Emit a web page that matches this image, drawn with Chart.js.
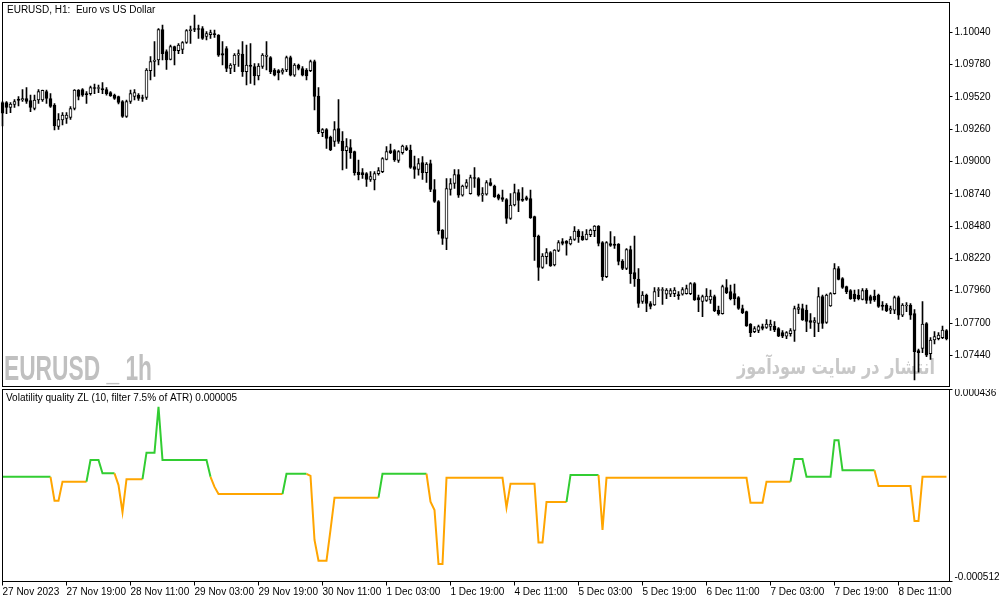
<!DOCTYPE html>
<html>
<head>
<meta charset="utf-8">
<title>EURUSD H1</title>
<script src="https://cdn.jsdelivr.net/npm/chart.js@4.4.1/dist/chart.umd.min.js"></script>
<style>
  html, body { margin: 0; padding: 0; background: #ffffff; }
  #wrap { position: relative; width: 1003px; height: 603px; overflow: hidden; }
  #priceCanvas { position: absolute; left: 0; top: 0; }
  #vqCanvas { position: absolute; left: 0; top: 389px; }
</style>
</head>
<body>
<div id="wrap">
  <canvas id="priceCanvas" width="1003" height="389"></canvas>
  <canvas id="vqCanvas" width="1003" height="214"></canvas>
</div>
<script>
// hourly bars, broker time
const tradingDays = ['27 Nov', '28 Nov', '29 Nov', '30 Nov', '1 Dec', '4 Dec', '5 Dec', '6 Dec', '7 Dec', '8 Dec']
const firstHour = 3
const firstTickLabel = '27 Nov 2023'
const hours = []
tradingDays.forEach((d, k) => {
  for (let h = k === 0 ? firstHour : 0; h < 24; h++) hours.push(d + ' ' + String(h).padStart(2, '0') + ':00')
})

const priceTicks = [1.07440, 1.07700, 1.07960, 1.08220, 1.08480, 1.08740, 1.09000, 1.09260, 1.09520, 1.09780, 1.10040]

const openPrices = [
  1.09475,1.09475,1.09435,1.09459,1.09503,1.09495,1.09507,1.09491,1.09427,1.09495,
  1.09495,1.09563,1.09507,1.09455,1.09282,1.09334,1.09346,1.09354,1.09427,1.09576,
  1.09580,1.09543,1.09547,1.09596,1.09588,1.09588,1.09580,1.09555,1.09535,1.09523,
  1.09483,1.09362,1.09483,1.09523,1.09535,1.09515,1.09515,1.09732,1.09805,1.09817,
  1.10063,1.09885,1.09821,1.09926,1.09893,1.09902,1.09958,1.10054,1.10071,1.10071,
  1.10071,1.10006,1.10022,1.10030,1.10018,1.09869,1.09910,1.09749,1.09777,1.09857,
  1.09865,1.09724,1.09777,1.09765,1.09688,1.09765,1.09845,1.09837,1.09737,1.09732,
  1.09720,1.09737,1.09837,1.09696,1.09777,1.09749,1.09737,1.09732,1.09805,1.09527,
  1.09233,1.09258,1.09197,1.09161,1.09266,1.09165,1.09088,1.09113,1.09080,1.08915,
  1.08911,1.08903,1.08855,1.08851,1.08903,1.08919,1.09016,1.09088,1.09088,1.09008,
  1.09072,1.09113,1.09093,1.08960,1.08936,1.08992,1.08911,1.08984,1.08775,1.08678,
  1.08448,1.08380,1.08775,1.08823,1.08895,1.08730,1.08799,1.08742,1.08871,1.08863,
  1.08730,1.08738,1.08831,1.08803,1.08730,1.08710,1.08694,1.08541,1.08650,1.08750,
  1.08698,1.08710,1.08702,1.08557,1.08400,1.08147,1.08235,1.08267,1.08167,1.08284,
  1.08356,1.08360,1.08336,1.08372,1.08440,1.08400,1.08372,1.08412,1.08444,1.08481,
  1.08348,1.08074,1.08340,1.08336,1.08336,1.08199,1.08139,1.08291,1.08106,1.08054,
  1.07873,1.07925,1.07857,1.07845,1.07962,1.07962,1.07933,1.07933,1.07937,1.07929,
  1.07933,1.07937,1.07937,1.08018,1.07905,1.07873,1.07881,1.07885,1.07913,1.07804,
  1.07776,1.07986,1.07953,1.07937,1.07905,1.07817,1.07792,1.07692,1.07631,1.07640,
  1.07672,1.07664,1.07672,1.07676,1.07656,1.07623,1.07595,1.07615,1.07640,1.07809,
  1.07817,1.07804,1.07720,1.07704,1.07696,1.07913,1.07704,1.07837,1.07937,1.08139,
  1.08058,1.07994,1.07962,1.07933,1.07925,1.07889,1.07966,1.07913,1.07917,1.07925,
  1.07845,1.07845,1.07804,1.07804,1.07905,1.07764,1.07837,1.07845,1.07776,1.07479,
  1.07495,1.07696,1.07454,1.07563,1.07575,1.07583,1.07640
]

const highPrices = [
  1.09483,1.09483,1.09475,1.09499,1.09523,1.09580,1.09596,1.09535,1.09535,1.09580,
  1.09576,1.09576,1.09547,1.09467,1.09386,1.09394,1.09394,1.09443,1.09580,1.09580,
  1.09588,1.09563,1.09608,1.09624,1.09616,1.09636,1.09596,1.09563,1.09543,1.09527,
  1.09491,1.09495,1.09576,1.09580,1.09547,1.09535,1.09749,1.09845,1.09966,1.10071,
  1.10099,1.09898,1.09938,1.09930,1.09950,1.09966,1.10063,1.10091,1.10179,1.10099,
  1.10087,1.10046,1.10058,1.10058,1.10022,1.09966,1.09926,1.09789,1.09869,1.09898,
  1.09966,1.09938,1.09950,1.09789,1.09789,1.09869,1.09966,1.09845,1.09749,1.09741,
  1.09749,1.09849,1.09849,1.09789,1.09785,1.09765,1.09749,1.09817,1.09817,1.09596,
  1.09266,1.09266,1.09205,1.09322,1.09499,1.09241,1.09185,1.09177,1.09084,1.09012,
  1.08944,1.08911,1.08919,1.08919,1.08952,1.09032,1.09121,1.09141,1.09097,1.09088,
  1.09133,1.09129,1.09133,1.09044,1.09024,1.09040,1.08992,1.09012,1.08855,1.08686,
  1.08453,1.08863,1.08863,1.08936,1.08936,1.08811,1.08855,1.08891,1.08952,1.08871,
  1.08791,1.08847,1.08863,1.08811,1.08738,1.08771,1.08702,1.08742,1.08819,1.08775,
  1.08791,1.08722,1.08771,1.08561,1.08408,1.08259,1.08300,1.08275,1.08291,1.08364,
  1.08380,1.08364,1.08396,1.08477,1.08453,1.08436,1.08453,1.08457,1.08485,1.08485,
  1.08356,1.08356,1.08436,1.08396,1.08340,1.08211,1.08300,1.08320,1.08400,1.08139,
  1.07953,1.07933,1.07873,1.07986,1.07986,1.07986,1.07978,1.07978,1.07986,1.07953,
  1.07986,1.08006,1.08026,1.08026,1.07925,1.07925,1.07978,1.07966,1.07925,1.07837,
  1.08006,1.08050,1.08006,1.08014,1.07913,1.07845,1.07796,1.07696,1.07672,1.07684,
  1.07692,1.07728,1.07724,1.07712,1.07664,1.07640,1.07631,1.07656,1.07837,1.07853,
  1.07853,1.07845,1.07776,1.07744,1.07986,1.07925,1.07933,1.07945,1.08179,1.08155,
  1.08066,1.07998,1.07970,1.07966,1.07970,1.07978,1.07978,1.07925,1.07966,1.07933,
  1.07873,1.07857,1.07837,1.07917,1.07917,1.07857,1.07865,1.07857,1.07809,1.07491,
  1.07873,1.07704,1.07583,1.07631,1.07623,1.07676,1.07648
]

const lowPrices = [
  1.09286,1.09386,1.09394,1.09435,1.09447,1.09483,1.09467,1.09402,1.09415,1.09467,
  1.09483,1.09467,1.09435,1.09254,1.09258,1.09294,1.09306,1.09338,1.09415,1.09495,
  1.09523,1.09467,1.09535,1.09547,1.09555,1.09547,1.09535,1.09523,1.09499,1.09463,
  1.09354,1.09354,1.09467,1.09495,1.09491,1.09483,1.09499,1.09656,1.09684,1.09777,
  1.09817,1.09741,1.09817,1.09777,1.09869,1.09869,1.09950,1.09950,1.10046,1.09990,
  1.09982,1.09978,1.09990,1.09998,1.09845,1.09777,1.09724,1.09708,1.09724,1.09765,
  1.09684,1.09616,1.09628,1.09616,1.09656,1.09749,1.09737,1.09708,1.09688,1.09656,
  1.09704,1.09724,1.09688,1.09684,1.09737,1.09688,1.09656,1.09724,1.09415,1.09225,
  1.09201,1.09105,1.09088,1.09121,1.09145,1.08932,1.08944,1.09024,1.08891,1.08851,
  1.08863,1.08799,1.08839,1.08771,1.08891,1.08911,1.09012,1.09064,1.09000,1.08992,
  1.09060,1.09088,1.08944,1.08863,1.08891,1.08855,1.08831,1.08758,1.08670,1.08416,
  1.08332,1.08291,1.08730,1.08783,1.08710,1.08722,1.08783,1.08738,1.08791,1.08722,
  1.08678,1.08730,1.08803,1.08710,1.08690,1.08678,1.08501,1.08533,1.08642,1.08597,
  1.08678,1.08686,1.08541,1.08203,1.08042,1.08139,1.08175,1.08155,1.08159,1.08275,
  1.08328,1.08247,1.08328,1.08364,1.08348,1.08364,1.08368,1.08396,1.08396,1.08320,
  1.08042,1.08066,1.08316,1.08300,1.08167,1.08130,1.08130,1.08018,1.07994,1.07825,
  1.07857,1.07792,1.07813,1.07841,1.07913,1.07849,1.07897,1.07913,1.07913,1.07889,
  1.07925,1.07933,1.07929,1.07881,1.07792,1.07752,1.07873,1.07857,1.07792,1.07764,
  1.07772,1.07937,1.07885,1.07845,1.07809,1.07776,1.07672,1.07591,1.07623,1.07623,
  1.07644,1.07656,1.07640,1.07631,1.07591,1.07583,1.07575,1.07595,1.07551,1.07776,
  1.07720,1.07631,1.07656,1.07591,1.07631,1.07656,1.07696,1.07833,1.07933,1.08046,
  1.07978,1.07937,1.07889,1.07873,1.07885,1.07885,1.07857,1.07857,1.07873,1.07825,
  1.07804,1.07792,1.07776,1.07776,1.07728,1.07752,1.07792,1.07728,1.07241,1.07305,
  1.07462,1.07430,1.07406,1.07531,1.07563,1.07575,1.07563
]

const closePrices = [
  1.09390,1.09435,1.09463,1.09483,1.09491,1.09507,1.09483,1.09435,1.09495,1.09563,
  1.09572,1.09507,1.09443,1.09286,1.09338,1.09374,1.09374,1.09427,1.09576,1.09523,
  1.09535,1.09539,1.09596,1.09588,1.09592,1.09576,1.09547,1.09527,1.09507,1.09475,
  1.09362,1.09483,1.09547,1.09555,1.09507,1.09507,1.09737,1.09805,1.09817,1.10063,
  1.09869,1.09817,1.09926,1.09893,1.09938,1.09958,1.10054,1.10063,1.10063,1.10063,
  1.09990,1.10030,1.10038,1.10022,1.09857,1.09857,1.09749,1.09777,1.09857,1.09869,
  1.09724,1.09777,1.09765,1.09688,1.09769,1.09857,1.09857,1.09724,1.09696,1.09716,
  1.09737,1.09837,1.09696,1.09777,1.09749,1.09696,1.09688,1.09805,1.09523,1.09241,
  1.09258,1.09185,1.09093,1.09258,1.09161,1.09088,1.09121,1.09072,1.08911,1.08895,
  1.08895,1.08855,1.08879,1.08903,1.08928,1.09024,1.09080,1.09072,1.09012,1.09080,
  1.09125,1.09093,1.08952,1.08936,1.08984,1.08911,1.08980,1.08775,1.08678,1.08444,
  1.08380,1.08783,1.08823,1.08895,1.08730,1.08803,1.08831,1.08871,1.08863,1.08730,
  1.08742,1.08831,1.08807,1.08718,1.08702,1.08694,1.08541,1.08650,1.08750,1.08686,
  1.08686,1.08694,1.08549,1.08396,1.08147,1.08239,1.08267,1.08159,1.08288,1.08348,
  1.08340,1.08340,1.08376,1.08440,1.08396,1.08368,1.08416,1.08448,1.08481,1.08340,
  1.08074,1.08348,1.08324,1.08324,1.08195,1.08139,1.08291,1.08098,1.08054,1.07857,
  1.07925,1.07857,1.07833,1.07953,1.07970,1.07970,1.07966,1.07962,1.07966,1.07921,
  1.07970,1.07978,1.08018,1.07885,1.07885,1.07913,1.07917,1.07917,1.07800,1.07776,
  1.07994,1.07945,1.07897,1.07897,1.07817,1.07784,1.07676,1.07623,1.07656,1.07672,
  1.07656,1.07692,1.07692,1.07644,1.07595,1.07595,1.07623,1.07640,1.07817,1.07825,
  1.07724,1.07712,1.07704,1.07720,1.07913,1.07696,1.07925,1.07937,1.08139,1.08050,
  1.07986,1.07953,1.07897,1.07897,1.07897,1.07962,1.07881,1.07881,1.07885,1.07833,
  1.07833,1.07800,1.07817,1.07905,1.07764,1.07845,1.07845,1.07764,1.07470,1.07462,
  1.07692,1.07442,1.07563,1.07591,1.07603,1.07644,1.07575
]

// Volatility quality ZL, one value per bar
const vqValues = [
  0.000005,0.000005,0.000005,0.000005,0.000005,0.000005,0.000005,0.000005,0.000005,0.000005,
  0.000005,0.000005,0.000005,-0.000113,-0.000113,-0.000019,-0.000019,-0.000019,-0.000019,-0.000019,
  -0.000019,-0.000019,0.000088,0.000088,0.000088,0.000022,0.000022,0.000022,0.000022,-0.000036,
  -0.000170,-0.000007,-0.000007,-0.000007,-0.000007,-0.000007,0.000124,0.000124,0.000124,0.000350,
  0.000088,0.000088,0.000088,0.000088,0.000088,0.000088,0.000088,0.000088,0.000088,0.000088,
  0.000088,0.000088,0.000005,-0.000045,-0.000080,-0.000080,-0.000080,-0.000080,-0.000080,-0.000080,
  -0.000080,-0.000080,-0.000080,-0.000080,-0.000080,-0.000080,-0.000080,-0.000080,-0.000080,-0.000080,
  -0.000080,0.000020,0.000020,0.000020,0.000020,0.000020,0.000020,0.000009,-0.000307,-0.000409,
  -0.000409,-0.000409,-0.000257,-0.000098,-0.000098,-0.000098,-0.000098,-0.000098,-0.000098,-0.000098,
  -0.000098,-0.000098,-0.000098,-0.000098,-0.000098,0.000020,0.000020,0.000020,0.000020,0.000020,
  0.000020,0.000020,0.000020,0.000020,0.000020,0.000020,0.000020,-0.000118,-0.000159,-0.000426,
  -0.000426,0.000000,0.000000,0.000000,0.000000,0.000000,0.000000,0.000000,0.000000,0.000000,
  0.000000,0.000000,0.000000,0.000000,0.000000,0.000000,-0.000147,-0.000029,-0.000029,-0.000029,
  -0.000029,-0.000029,-0.000029,-0.000029,-0.000320,-0.000320,-0.000119,-0.000119,-0.000119,-0.000119,
  -0.000119,-0.000119,0.000014,0.000014,0.000014,0.000014,0.000014,0.000014,0.000014,0.000014,
  -0.000257,0.000000,0.000000,0.000000,0.000000,0.000000,0.000000,0.000000,0.000000,0.000000,
  0.000000,0.000000,0.000000,0.000000,0.000000,0.000000,0.000000,0.000000,0.000000,0.000000,
  0.000000,0.000000,0.000000,0.000000,0.000000,0.000000,0.000000,0.000000,0.000000,0.000000,
  0.000000,0.000000,0.000000,0.000000,0.000000,0.000000,0.000000,-0.000123,-0.000123,-0.000123,
  -0.000123,-0.000019,-0.000019,-0.000019,-0.000019,-0.000019,-0.000019,-0.000019,0.000093,0.000093,
  0.000093,0.000005,0.000005,0.000005,0.000005,0.000005,0.000005,0.000005,0.000186,0.000186,
  0.000037,0.000037,0.000037,0.000037,0.000037,0.000037,0.000037,0.000037,0.000037,-0.000040,
  -0.000040,-0.000040,-0.000040,-0.000040,-0.000040,-0.000040,-0.000040,-0.000040,-0.000213,-0.000213,
  0.000005,0.000005,0.000005,0.000005,0.000005,0.000005,0.000005
]

// 1 = rising (green), -1 = falling (orange)
const vqTrend = [
  1,1,1,1,1,1,1,1,1,1,1,1,1,
  -1,-1,-1,-1,-1,-1,-1,-1,-1,
  1,1,1,1,1,1,1,
  -1,-1,-1,-1,-1,-1,-1,
  1,1,1,1,1,1,1,1,1,1,1,1,1,1,1,1,1,
  -1,-1,-1,-1,-1,-1,-1,-1,-1,-1,-1,-1,-1,-1,-1,-1,-1,-1,
  1,1,1,1,1,1,
  -1,-1,-1,-1,-1,-1,-1,-1,-1,-1,-1,-1,-1,-1,-1,-1,-1,-1,
  1,1,1,1,1,1,1,1,1,1,1,1,
  -1,-1,-1,-1,-1,-1,-1,-1,-1,-1,-1,-1,-1,-1,-1,-1,-1,-1,-1,-1,-1,-1,-1,-1,-1,-1,-1,-1,-1,-1,-1,-1,-1,-1,-1,
  1,1,1,1,1,1,1,1,
  -1,-1,-1,-1,-1,-1,-1,-1,-1,-1,-1,-1,-1,-1,-1,-1,-1,-1,-1,-1,-1,-1,-1,-1,
  -1,-1,-1,-1,-1,-1,-1,-1,-1,-1,-1,-1,-1,-1,-1,-1,-1,-1,-1,-1,-1,-1,-1,-1,
  1,1,1,1,1,1,1,1,1,1,1,1,1,1,1,1,1,1,1,1,1,
  -1,-1,-1,-1,-1,-1,-1,-1,-1,-1,-1,-1,-1,-1,-1,-1,-1,-1
]

const GREEN = '#32cd32'
const ORANGE = '#ffa500'
const FONT = '"Liberation Sans", Arial, sans-serif'

Chart.defaults.font.family = FONT
Chart.defaults.font.size = 10
Chart.defaults.color = '#000'

const bodyColors = openPrices.map((o, i) => closePrices[i] >= o ? '#ffffff' : '#000000')

// keep the plot areas pinned to the pane frames: no label padding
const noPadY = s => { s.width = 54.5; s.paddingTop = 0; s.paddingBottom = 0 }
const noPadX = s => { s.height = 21.5; s.paddingLeft = 0; s.paddingRight = 0 }

const priceDecor = {
  id: 'priceDecor',
  beforeDatasetsDraw(chart) {
    const ctx = chart.ctx
    ctx.save()
    ctx.fillStyle = '#c0c0c0'
    ctx.font = 'bold 35px ' + FONT
    ctx.textBaseline = 'alphabetic'
    const mark = 'EURUSD _ 1h'
    const w = ctx.measureText(mark).width
    ctx.translate(4, 380)
    ctx.scale(148 / w, 1)
    ctx.fillText(mark, 0, 0)
    ctx.restore()

    ctx.save()
    ctx.fillStyle = '#c8c8c8'
    ctx.font = 'bold 21px "DejaVu Sans", sans-serif'
    ctx.textBaseline = 'alphabetic'
    const site = 'انتشار در سایت سودآموز'
    const sw = ctx.measureText(site).width
    ctx.translate(737, 374)
    ctx.scale(198 / sw, 1)
    ctx.fillText(site, 0, 0)
    ctx.restore()
  },
  afterDraw(chart) {
    const ctx = chart.ctx
    ctx.save()
    ctx.strokeStyle = '#000'
    ctx.lineWidth = 1
    ctx.strokeRect(2.5, 2.5, 947, 384)
    ctx.fillStyle = '#000'
    ctx.font = '10px ' + FONT
    ctx.textBaseline = 'middle'
    ctx.fillText('EURUSD, H1:  Euro vs US Dollar', 7, 10)
    ctx.restore()
  }
}

const vqDecor = {
  id: 'vqDecor',
  afterDraw(chart) {
    const ctx = chart.ctx
    ctx.save()
    ctx.strokeStyle = '#000'
    ctx.lineWidth = 1
    ctx.strokeRect(2.5, 0.5, 947, 192)
    ctx.fillStyle = '#000'
    ctx.font = '10px ' + FONT
    ctx.textBaseline = 'middle'
    const last = vqValues[vqValues.length - 1]
    ctx.fillText('Volatility quality ZL (10, filter 7.5% of ATR) ' + last.toFixed(6), 6, 9.5)
    ctx.restore()
  }
}

new Chart(document.getElementById('priceCanvas'), {
  type: 'bar',
  data: {
    labels: hours,
    datasets: [
      {
        label: 'wick',
        data: lowPrices.map((l, i) => [l, highPrices[i]]),
        backgroundColor: '#000',
        barThickness: 1,
        grouped: false,
        order: 2
      },
      {
        label: 'body',
        data: openPrices.map((o, i) => [o, closePrices[i]]),
        backgroundColor: bodyColors,
        borderColor: '#000',
        borderWidth: 1,
        borderSkipped: false,
        barThickness: 3,
        minBarLength: 1,
        grouped: false,
        order: 1
      }
    ]
  },
  options: {
    responsive: false,
    animation: false,
    devicePixelRatio: 1,
    layout: { padding: { left: 0.5, top: 2, right: 0, bottom: 2 } },
    plugins: { legend: { display: false }, tooltip: { enabled: false } },
    scales: {
      x: { display: false, offset: true },
      y: {
        position: 'right',
        min: 1.07185,
        max: 1.10284,
        afterBuildTicks: s => { s.ticks = priceTicks.map(v => ({ value: v })) },
        afterFit: noPadY,
        grid: { drawOnChartArea: false, drawTicks: true, tickLength: 4, color: '#000' },
        border: { display: false },
        ticks: { padding: 2, color: '#000', callback: v => v.toFixed(5) }
      }
    }
  },
  plugins: [priceDecor]
})

new Chart(document.getElementById('vqCanvas'), {
  type: 'line',
  data: {
    labels: hours,
    datasets: [{
      label: 'VQ ZL',
      data: vqValues,
      borderWidth: 2,
      borderColor: GREEN,
      pointRadius: 0,
      tension: 0,
      segment: { borderColor: c => vqTrend[c.p1DataIndex] > 0 ? GREEN : ORANGE }
    }]
  },
  options: {
    responsive: false,
    animation: false,
    devicePixelRatio: 1,
    layout: { padding: { left: 0.5, top: 0.5, right: 0, bottom: 0 } },
    plugins: { legend: { display: false }, tooltip: { enabled: false } },
    scales: {
      x: {
        type: 'category',
        offset: true,
        afterBuildTicks: s => { s.ticks = s.ticks.filter(t => t.value % 16 === 0) },
        afterFit: noPadX,
        grid: { offset: false, drawOnChartArea: false, drawTicks: true, tickLength: 4, color: '#000' },
        border: { display: false },
        ticks: {
          autoSkip: false,
          maxRotation: 0,
          align: 'start',
          padding: 1,
          color: '#000',
          callback: function (v) { return v === 0 ? firstTickLabel : this.getLabelForValue(v) }
        }
      },
      y: {
        position: 'right',
        min: -0.000512,
        max: 0.000436,
        afterBuildTicks: s => { s.ticks = [{ value: 0.000436 }, { value: -0.000512 }] },
        afterFit: noPadY,
        grid: { drawOnChartArea: false, drawTicks: true, tickLength: 4, color: '#000' },
        border: { display: false },
        ticks: {
          padding: 2,
          color: '#000',
          font: { size: 10, lineHeight: 0.8 },
          callback: v => v > 0 ? ['', v.toFixed(6)] : [v.toFixed(6), '']
        }
      }
    }
  },
  plugins: [vqDecor]
})
</script>
</body>
</html>
